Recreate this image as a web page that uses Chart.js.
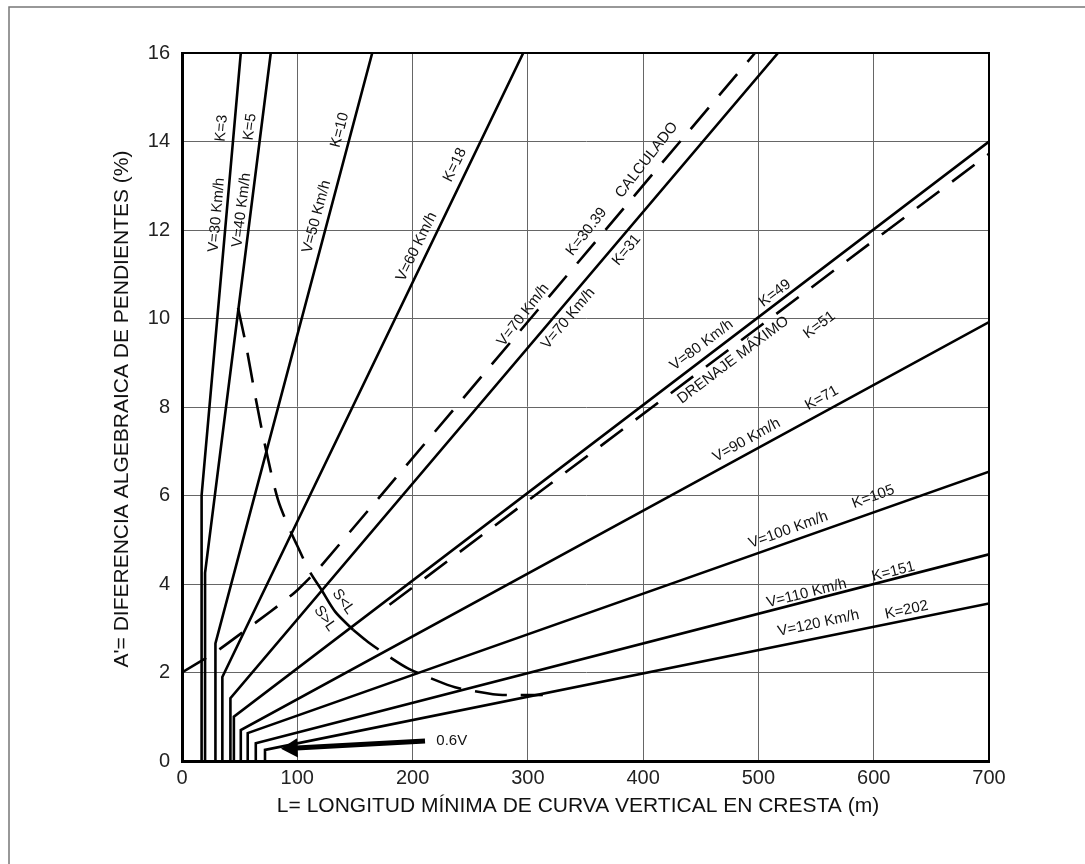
<!DOCTYPE html>
<html>
<head>
<meta charset="utf-8">
<script src="https://cdn.jsdelivr.net/npm/chart.js@4.4.0/dist/chart.umd.min.js"></script>
<style>html,body{margin:0;background:#fff}</style>
</head>
<body>
<canvas id="c" width="1085" height="864"></canvas>
<script>
// design speed lines: vertical at 0.6V, then straight line
const speeds = [30, 40, 50, 60, 70, 80, 90, 100, 110, 120];
const kValues = ['3', '5', '10', '18', '31', '49', '71', '105', '151', '202'];
const minLength = [17, 20, 29, 35, 42, 45, 51, 57, 64, 72];
const kinkA = [6, 4.25, 2.66, 1.9, 1.42, 1.0, 0.7, 0.63, 0.4, 0.25];
const endL = [51, 77, 165, 296, 517, 700, 700, 700, 700, 700];
const endA = [16, 16, 16, 16, 16, 14.0, 9.92, 6.54, 4.67, 3.56];

// dashed K=30.39 "calculado"
const calcL = [0, 29, 65, 88, 100, 120, 497];
const calcA = [2, 2.46, 3.15, 3.6, 3.86, 4.39, 16];

// dashed K=51 "drenaje maximo"
const drenL = [180, 700];
const drenA = [3.53, 13.72];

// S = L boundary curve
const curveUpL = [48.6, 55.5, 64.2, 72.9, 83.3, 93.7, 99.7, 111, 121.2];
const curveUpA = [10.24, 9.4, 8.16, 7.03, 5.9, 5.22, 4.88, 4.27, 3.86];
const arcL = [121.2, 133, 148.6];
const arcA = [3.86, 3.37, 2.96];
const curveLowL = [148.6, 161.3, 186.5, 198.6, 226.4, 239.4, 269.7, 282.7, 313];
const curveLowA = [2.96, 2.69, 2.24, 2.06, 1.76, 1.65, 1.51, 1.49, 1.49];

// 0.6V arrow
const arrowL = [95.4, 210.8];
const arrowA = [0.29, 0.45];

const xTicks = [0, 100, 200, 300, 400, 500, 600, 700];
const yTicks = [0, 2, 4, 6, 8, 10, 12, 14, 16];

const notes = [
  { t: 'K=3', x: 34.4, y: 14.3, r: -85 },
  { t: 'K=5', x: 59, y: 14.33, r: -83 },
  { t: 'V=30 Km/h', x: 30.1, y: 12.34, r: -85 },
  { t: 'V=40 Km/h', x: 51.8, y: 12.45, r: -83 },
  { t: 'K=10', x: 137, y: 14.26, r: -75 },
  { t: 'V=50 Km/h', x: 116.8, y: 12.3, r: -75 },
  { t: 'K=18', x: 236.8, y: 13.47, r: -64 },
  { t: 'V=60 Km/h', x: 203.6, y: 11.62, r: -64 },
  { t: 'K=30.39', x: 351, y: 11.96, r: -52 },
  { t: 'CALCULADO', x: 403, y: 13.58, r: -52 },
  { t: 'K=31', x: 385.7, y: 11.55, r: -50 },
  { t: 'V=70 Km/h', x: 296, y: 10.08, r: -52 },
  { t: 'V=70 Km/h', x: 335, y: 10.0, r: -50 },
  { t: 'K=49', x: 514.3, y: 10.57, r: -37 },
  { t: 'V=80 Km/h', x: 450.7, y: 9.4, r: -37 },
  { t: 'DRENAJE MÁXIMO', x: 478, y: 9.06, r: -37 },
  { t: 'K=51', x: 553, y: 9.85, r: -37 },
  { t: 'K=71', x: 555, y: 8.2, r: -29 },
  { t: 'V=90 Km/h', x: 489.8, y: 7.25, r: -29 },
  { t: 'V=100 Km/h', x: 526, y: 5.22, r: -20 },
  { t: 'K=105', x: 599.6, y: 5.97, r: -20 },
  { t: 'V=110 Km/h', x: 541.8, y: 3.79, r: -14 },
  { t: 'K=151', x: 617, y: 4.28, r: -14 },
  { t: 'V=120 Km/h', x: 552, y: 3.11, r: -12 },
  { t: 'K=202', x: 628.5, y: 3.41, r: -12 },
  { t: 'S<L', x: 139.9, y: 3.6, r: 55 },
  { t: 'S>L', x: 124, y: 3.22, r: 55 },
  { t: '0.6V', x: 234, y: 0.45, r: 0 }
];

const pts = (xs, ys) => xs.map((x, i) => ({ x: x, y: ys[i] }));

const datasets = speeds.map((v, i) => ({
  label: 'V=' + v + ' K=' + kValues[i],
  data: [
    { x: minLength[i], y: 0 },
    { x: minLength[i], y: kinkA[i] },
    { x: endL[i], y: endA[i] }
  ],
  borderColor: '#000',
  borderWidth: 2.6
}));

datasets.push(
  { label: 'calculado', data: pts(calcL, calcA), borderColor: '#000', borderWidth: 2.6, borderDash: [28, 16], tension: 0.2 },
  { label: 'drenaje', data: pts(drenL, drenA), borderColor: '#000', borderWidth: 2.6, borderDash: [28, 16] },
  { label: 'S=L', data: pts(curveUpL, curveUpA), borderColor: '#000', borderWidth: 2.6, borderDash: [30, 16], tension: 0.3 },
  { label: 'arc', data: pts(arcL, arcA), borderColor: '#000', borderWidth: 2.6, tension: 0.3 },
  { label: 'S=L low', data: pts(curveLowL, curveLowA), borderColor: '#000', borderWidth: 2.6, borderDash: [32, 14], tension: 0.3 },
  {
    label: 'arrow', data: pts(arrowL, arrowA), borderColor: '#000', borderWidth: 5,
    pointRadius: [11, 0], pointStyle: 'triangle', rotation: 267, pointBackgroundColor: '#000', pointBorderWidth: 0
  }
);

const decor = {
  id: 'decor',
  beforeDraw(chart) {
    const ctx = chart.ctx;
    ctx.save();
    ctx.fillStyle = '#fff';
    ctx.fillRect(0, 0, chart.width, chart.height);
    ctx.strokeStyle = '#777';
    ctx.lineWidth = 1.5;
    ctx.strokeRect(9, 7, 1100, 900);
    ctx.restore();
  },
  afterDatasetsDraw(chart) {
    const ctx = chart.ctx;
    const xs = chart.scales.x, ys = chart.scales.y;
    const a = chart.chartArea;
    ctx.save();
    ctx.strokeStyle = '#000';
    ctx.lineWidth = 2;
    ctx.beginPath();
    ctx.moveTo(a.left, a.top);
    ctx.lineTo(a.right, a.top);
    ctx.lineTo(a.right, a.bottom);
    ctx.stroke();
    ctx.fillStyle = '#111';
    ctx.font = '15px "Liberation Sans", Arial, sans-serif';
    ctx.textAlign = 'center';
    ctx.textBaseline = 'middle';
    notes.forEach(n => {
      ctx.save();
      ctx.translate(xs.getPixelForValue(n.x), ys.getPixelForValue(n.y));
      ctx.rotate(n.r * Math.PI / 180);
      ctx.fillText(n.t, 0, 0);
      ctx.restore();
    });
    ctx.font = '21px "Liberation Sans", Arial, sans-serif';
    ctx.fillText('L= LONGITUD MÍNIMA DE CURVA VERTICAL EN CRESTA (m)', 578, 806);
    ctx.translate(122, 409);
    ctx.rotate(-Math.PI / 2);
    ctx.fillText("A'= DIFERENCIA ALGEBRAICA DE PENDIENTES (%)", 0, 0);
    ctx.restore();
  }
};

new Chart(document.getElementById('c'), {
  type: 'scatter',
  data: { datasets: datasets },
  plugins: [decor],
  options: {
    responsive: false,
    animation: false,
    showLine: true,
    devicePixelRatio: 1,
    layout: { padding: { left: 0, right: 96, top: 53, bottom: 0 } },
    elements: { point: { radius: 0 }, line: { tension: 0 } },
    plugins: { legend: { display: false }, tooltip: { enabled: false } },
    scales: {
      x: {
        type: 'linear', min: 0, max: 700,
        afterBuildTicks: s => { s.ticks = xTicks.map(v => ({ value: v })); },
        afterFit: s => { s.height = 103; },
        grid: { color: '#666', lineWidth: 1, drawTicks: false },
        border: { color: '#000', width: 3 },
        ticks: { color: '#222', padding: 5, font: { family: '"Liberation Sans", Arial', size: 20 } }
      },
      y: {
        type: 'linear', min: 0, max: 16,
        afterBuildTicks: s => { s.ticks = yTicks.map(v => ({ value: v })); },
        afterFit: s => { s.width = 182; },
        grid: { color: '#666', lineWidth: 1, drawTicks: false },
        border: { color: '#000', width: 3 },
        ticks: { color: '#222', padding: 12, font: { family: '"Liberation Sans", Arial', size: 20 } }
      }
    }
  }
});
</script>
</body>
</html>
